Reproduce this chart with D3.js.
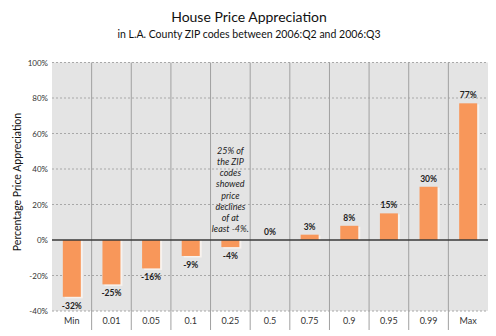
<!DOCTYPE html>
<html>
<head>
<meta charset="utf-8">
<script src="https://cdn.jsdelivr.net/npm/d3@7"></script>
<style>
  html, body { margin: 0; padding: 0; background: #fff; }
  svg { display: block; }
</style>
</head>
<body>
<svg id="chart" width="496" height="336"></svg>
<script>
const categories = ["Min", "0.01", "0.05", "0.1", "0.25", "0.5", "0.75", "0.9", "0.95", "0.99", "Max"];
const values = [-32, -25, -16, -9, -4, 0, 3, 8, 15, 30, 77];
const valueLabels = ["-32%", "-25%", "-16%", "-9%", "-4%", "0%", "3%", "8%", "15%", "30%", "77%"];
const yTicks = [-40, -20, 0, 20, 40, 60, 80, 100];
const annotationLines = ["25% of", "the ZIP", "codes", "showed", "price", "declines", "of at", "least -4%."];
const titleText = "House Price Appreciation";
const subtitleText = "in L.A. County ZIP codes between 2006:Q2 and 2006:Q3";
const yTitle = "Percentage Price Appreciation";

(function () {
const svg = d3.select("#chart");
const font = "Lato, 'Open Sans', sans-serif";
const pLeft = 52, pRight = 488, pTop = 62.5, pBottom = 311;

const x = d3.scaleBand().domain(categories).range([pLeft, pRight]).paddingInner(0).paddingOuter(0);
const y = d3.scaleLinear().domain([-40, 100]).range([pBottom, pTop]);

// plot background
svg.append("rect").attr("x", pLeft).attr("y", pTop).attr("width", pRight - pLeft).attr("height", pBottom - pTop)
  .attr("fill", "#e4e4e4");

// horizontal dotted gridlines
svg.append("g").selectAll("line").data(yTicks.filter(d => d !== 0)).join("line")
  .attr("x1", pLeft).attr("x2", pRight)
  .attr("y1", d => y(d)).attr("y2", d => y(d))
  .attr("stroke", "#a8a8a8").attr("stroke-width", 1).attr("stroke-dasharray", "2,2");

// vertical separators
svg.append("g").selectAll("line").data(categories.slice(1)).join("line")
  .attr("x1", d => x(d)).attr("x2", d => x(d))
  .attr("y1", pTop).attr("y2", 330)
  .attr("stroke", "#a0a0a0").attr("stroke-width", 1);

// y tick labels
const yAxis = d3.axisLeft(y).tickValues(yTicks).tickFormat(d => d + "%").tickSize(0).tickPadding(4);
const ya = svg.append("g").attr("transform", `translate(${pLeft},0)`).call(yAxis);
ya.select(".domain").remove();
ya.selectAll("text").attr("font-family", font).attr("font-size", 8).attr("fill", "#333");

// category labels
const xAxis = d3.axisBottom(x).tickSize(0).tickPadding(7);
const xa = svg.append("g").attr("transform", `translate(0,${pBottom})`).call(xAxis);
xa.select(".domain").remove();
xa.selectAll("text").attr("font-family", font).attr("font-size", 9).attr("fill", "#333");

const bw = 18;
const bx = d => x(d) + x.bandwidth() / 2 - bw / 2;

// bar shadows
svg.append("g").selectAll("rect").data(categories).join("rect")
  .attr("x", (d) => bx(d) + 2)
  .attr("y", (d, i) => values[i] >= 0 ? y(values[i]) + 1 : y(0))
  .attr("width", bw)
  .attr("height", (d, i) => Math.max(0, Math.abs(y(values[i]) - y(0)) + (values[i] < 0 ? 1.5 : -1)))
  .attr("fill", "#f7f2ee")
  .attr("opacity", (d, i) => values[i] === 0 ? 0 : 1);

// bars
svg.append("g").selectAll("rect").data(categories).join("rect")
  .attr("x", d => bx(d))
  .attr("y", (d, i) => Math.min(y(values[i]), y(0)))
  .attr("width", bw)
  .attr("height", (d, i) => Math.abs(y(values[i]) - y(0)))
  .attr("fill", "#f8975a");

// zero line
svg.append("line").attr("x1", pLeft).attr("x2", pRight).attr("y1", y(0)).attr("y2", y(0))
  .attr("stroke", "#3a3a3a").attr("stroke-width", 1.5);

// value labels
svg.append("g").selectAll("text").data(categories).join("text")
  .attr("x", d => x(d) + x.bandwidth() / 2)
  .attr("y", (d, i) => values[i] >= 0 ? y(values[i]) - 5 : y(values[i]) + 12)
  .attr("text-anchor", "middle")
  .attr("font-family", font).attr("font-size", 8.5).attr("font-weight", "bold").attr("fill", "#222")
  .text((d, i) => valueLabels[i]);

// annotation
const cx = x("0.25") + x.bandwidth() / 2;
const ann = svg.append("text")
  .attr("x", cx).attr("y", 154)
  .attr("text-anchor", "middle")
  .attr("font-family", font).attr("font-size", 9).attr("font-style", "italic").attr("fill", "#222");
ann.selectAll("tspan").data(annotationLines).join("tspan")
  .attr("x", cx)
  .attr("dy", (d, i) => i === 0 ? 0 : 11.15)
  .text(d => d);

// titles
svg.append("text").attr("x", 249).attr("y", 22).attr("text-anchor", "middle")
  .attr("font-family", font).attr("font-size", 14).attr("fill", "#111").text(titleText);
svg.append("text").attr("x", 249).attr("y", 38).attr("text-anchor", "middle")
  .attr("font-family", font).attr("font-size", 10.5).attr("fill", "#111").text(subtitleText);

// y title
svg.append("text").attr("transform", "translate(21,182) rotate(-90)")
  .attr("text-anchor", "middle")
  .attr("font-family", font).attr("font-size", 10.5).attr("fill", "#111").text(yTitle);
})();
</script>
</body>
</html>
